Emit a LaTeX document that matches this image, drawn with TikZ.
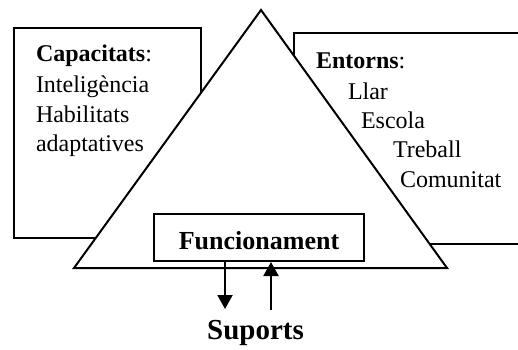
\documentclass[tikz,border=0pt]{standalone}
\usepackage{fontspec}
\setmainfont{Liberation Serif}
\usetikzlibrary{arrows.meta}
\begin{document}
\begin{tikzpicture}[x=0.5pt,y=-0.5pt,line width=1pt,
  txt/.style={font=\fontsize{12}{14}\selectfont,inner sep=0pt,anchor=base west},
  funbox/.style={draw,fill=white,font=\fontsize{13}{15}\selectfont\bfseries,
    minimum width=105pt,minimum height=23.5pt,inner sep=0pt,text height=11.6pt,text depth=0pt},
  arr/.style={-{Triangle[length=7pt,width=7.5pt]}}]
\useasboundingbox (0,0) rectangle (518,349);
\clip (0,0) rectangle (518,349);
% side boxes
\draw (14,28) rectangle (201,238);
\draw (294,33) rectangle (540,244);
% triangle
\draw[fill=white,line join=miter] (261,10) -- (447,268) -- (74,268) -- cycle;
% texts
\node[txt] (cap) at (35,61) {\textbf{Capacitats}:};
\node[txt] (int) at (35,92) {Intelig\`encia};
\node[txt] (hab) at (35,122) {Habilitats};
\node[txt] (ada) at (35,151) {adaptatives};
\node[txt] (ent) at (315,68) {\textbf{Entorns}:};
\node[txt] (llar) at (347,99) {Llar};
\node[txt] (esc) at (360,128) {Escola};
\node[txt] (tre) at (392,157) {Treball};
\node[txt] (com) at (399,187) {Comunitat};
% funcionament
\node[funbox] (fun) at (259,237.5) {Funcionament\hspace{6pt}};
\node[font=\fontsize{14.5}{16}\selectfont\bfseries,inner sep=0pt,anchor=base] (sup) at (255.5,339) {Suports};
\coordinate (d1) at (225,309);
\coordinate (u1) at (271,310);
\draw[arr] (d1 |- fun.south) -- (d1);
\draw[arr] (u1) -- (u1 |- fun.south);
\end{tikzpicture}
\end{document}
